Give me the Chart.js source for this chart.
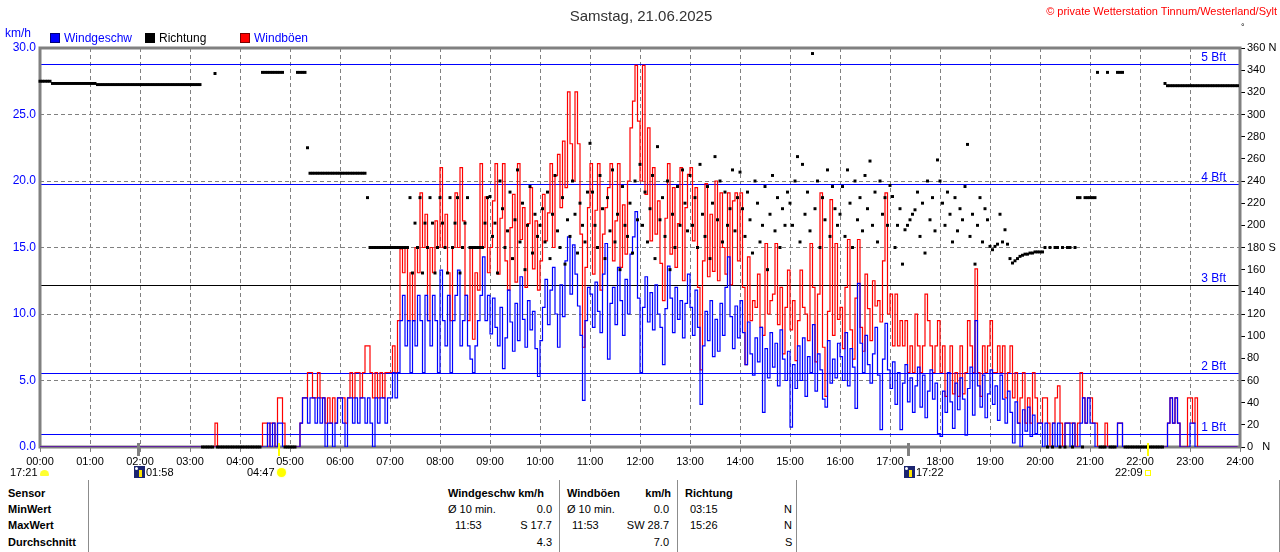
<!DOCTYPE html>
<html>
<head>
<meta charset="utf-8">
<title>Wind Samstag 21.06.2025</title>
<script src="https://cdn.jsdelivr.net/npm/chart.js@4.4.1/dist/chart.umd.min.js"></script>
<style>
  body { margin: 0; background: #fff; }
  #page { position: relative; width: 1280px; height: 552px; overflow: hidden; font-family: "Liberation Sans", Arial, sans-serif; }
  #chart { position: absolute; left: 0; top: 0; }
  .txt { position: absolute; white-space: nowrap; line-height: 1; }
  .sq { position: absolute; width: 10px; height: 10px; box-sizing: border-box; }
  .tab { font-size: 11px; color: #000; }
  .b { font-weight: bold; }
  .sep { position: absolute; top: 480px; width: 1px; height: 72px; background: #8c8c8c; }
  .moon { position: absolute; width: 11px; height: 12px; background: #1c2570; }
  .moon i { position: absolute; left: 5px; top: 4px; width: 3px; height: 7px; background: #ffe600; }
  .moon b { position: absolute; left: 1px; top: 1px; width: 3px; height: 3px; background: #fff; border-radius: 2px; }
</style>
</head>
<body>
<div id="page">
  <canvas id="chart" width="1280" height="470"></canvas>

  <div class="txt" style="left:0;width:1282px;text-align:center;top:8px;font-size:15px;color:#333;">Samstag, 21.06.2025</div>
  <div class="txt" style="right:3px;top:6px;font-size:11px;color:#ff0000;">© private Wetterstation Tinnum/Westerland/Sylt</div>
  <div class="txt" style="left:5px;top:27px;font-size:12px;color:#0000ff;">km/h</div>
  <div class="txt" style="left:1241px;top:23px;font-size:9px;color:#000;">°</div>

  <div class="sq" style="left:50px;top:33px;background:#0000ff;border:1px solid #00007a;"></div>
  <div class="txt" style="left:64px;top:32px;font-size:12px;color:#0000ff;">Windgeschw</div>
  <div class="sq" style="left:145px;top:33px;background:#000;"></div>
  <div class="txt" style="left:159px;top:32px;font-size:12px;color:#000;">Richtung</div>
  <div class="sq" style="left:240px;top:33px;background:#ff0000;border:1px solid #7a0000;"></div>
  <div class="txt" style="left:254px;top:32px;font-size:12px;color:#0000ff;">Windböen</div>

  <!-- sun / moon row -->
  <div class="txt" style="left:10px;top:467px;font-size:11px;">17:21</div>
  <div style="position:absolute;left:40px;top:470px;width:9px;height:6px;background:#ffff30;border-radius:5px 5px 1px 1px;"></div>
  <div class="moon" style="left:134px;top:466px;"><b></b><i></i></div>
  <div class="txt" style="left:146px;top:467px;font-size:11px;">01:58</div>
  <div class="txt" style="left:247px;top:467px;font-size:11px;">04:47</div>
  <div style="position:absolute;left:277px;top:468px;width:9px;height:9px;background:#ffff00;border-radius:5px;box-shadow:0 0 2px #ffff80;"></div>
  <div class="moon" style="left:904px;top:466px;"><b></b><i></i></div>
  <div class="txt" style="left:916px;top:467px;font-size:11px;">17:22</div>
  <div class="txt" style="left:1115px;top:467px;font-size:11px;">22:09</div>
  <div style="position:absolute;left:1145px;top:470px;width:6px;height:6px;border:1px solid #ffff00;box-sizing:border-box;"></div>

  <!-- table -->
  <div class="sep" style="left:88px;"></div>
  <div class="sep" style="left:559px;"></div>
  <div class="sep" style="left:677px;"></div>
  <div class="sep" style="left:796px;"></div>
  <div class="sep" style="left:1279px;"></div>

  <div class="txt tab b" style="left:8px;top:488px;">Sensor</div>
  <div class="txt tab b" style="left:8px;top:504px;">MinWert</div>
  <div class="txt tab b" style="left:8px;top:520px;">MaxWert</div>
  <div class="txt tab b" style="left:8px;top:537px;">Durchschnitt</div>

  <div class="txt tab b" style="left:448px;top:488px;">Windgeschw km/h</div>
  <div class="txt tab b" style="left:567px;top:488px;">Windböen</div>
  <div class="txt tab b" style="right:609px;top:488px;">km/h</div>
  <div class="txt tab b" style="left:685px;top:488px;">Richtung</div>

  <div class="txt tab" style="left:448px;top:504px;">Ø 10 min.</div>
  <div class="txt tab" style="right:728px;top:504px;">0.0</div>
  <div class="txt tab" style="left:567px;top:504px;">Ø 10 min.</div>
  <div class="txt tab" style="right:611px;top:504px;">0.0</div>
  <div class="txt tab" style="left:690px;top:504px;">03:15</div>
  <div class="txt tab" style="left:784px;top:504px;">N</div>

  <div class="txt tab" style="left:455px;top:520px;">11:53</div>
  <div class="txt tab" style="right:728px;top:520px;">S 17.7</div>
  <div class="txt tab" style="left:572px;top:520px;">11:53</div>
  <div class="txt tab" style="right:611px;top:520px;">SW 28.7</div>
  <div class="txt tab" style="left:690px;top:520px;">15:26</div>
  <div class="txt tab" style="left:784px;top:520px;">N</div>

  <div class="txt tab" style="right:728px;top:537px;">4.3</div>
  <div class="txt tab" style="right:611px;top:537px;">7.0</div>
  <div class="txt tab" style="left:785px;top:537px;">S</div>
</div>

<script>
// one value every 3 minutes, one row per hour (00:00 ... 23:57)
const stepMin = 3;

// Windgeschw km/h
const speedRows = [
  [0,0,0,0,0,0,0,0,0,0,0,0,0,0,0,0,0,0,0,0],
  [0,0,0,0,0,0,0,0,0,0,0,0,0,0,0,0,0,0,0,0],
  [0,0,0,0,0,0,0,0,0,0,0,0,0,0,0,0,0,0,0,0],
  [0,0,0,0,0,0,0,0,0,0,0,0,0,0,0,0,0,0,0,0],
  [0,0,0,0,0,0,0,0,0,0,0,1.8,0,1.8,0,1.8,1.8,0,0,0],
  [0,0,0,0,1.8,3.7,3.7,1.8,3.7,3.7,1.8,3.7,1.8,3.7,0,1.8,1.8,0,1.8,3.7],
  [3.7,1.8,0,3.7,3.7,1.8,3.7,1.8,3.7,3.7,1.8,3.7,1.8,0,3.7,1.8,3.7,3.7,1.8,3.7],
  [3.7,5.6,3.7,5.6,9.5,11.4,7.6,9.5,5.6,9.5,7.6,11.4,9.5,5.6,11.4,9.5,7.6,11.4,9.5,5.6],
  [13.3,9.5,7.6,11.4,5.6,9.5,11.4,13.3,7.6,9.5,11.4,7.6,6.6,5.6,7.6,9.5,11.4,14.3,9.5,11.4],
  [8.5,11.2,9.0,7.6,10.5,5.9,8.2,11.8,9.4,7.2,10.8,8.0,12.8,9.6,7.5,11.0,8.8,10.2,7.4,5.3],
  [8.0,10.5,12.6,9.2,11.8,13.5,10.0,7.5,12.2,9.8,14.0,15.8,11.5,15.2,13.0,10.6,8.4,3.5,9.5,12.0],
  [11.5,9.0,12.4,10.2,8.6,13.0,15.3,6.6,10.8,12.0,9.2,13.5,11.0,8.4,12.6,10.0,14.5,15.8,17.7,11.2],
  [5.6,10.5,12.8,9.4,11.6,8.8,12.2,10.0,9.0,6.2,10.4,13.6,11.2,8.6,12.0,9.6,11.0,8.2,10.8,13.0],
  [10.5,8.4,11.8,9.0,3.2,7.6,10.2,8.0,11.0,6.8,9.6,7.2,10.8,8.4,12.0,14.3,9.8,7.4,10.6,8.2],
  [11.0,8.6,6.2,9.4,7.0,5.4,8.2,6.4,9.0,2.6,7.4,5.2,8.6,6.0,7.8,4.6,8.8,6.6,5.0,7.2],
  [1.5,6.2,4.4,7.6,5.0,8.2,3.8,6.8,5.6,9.2,4.2,7.0,5.8,3.6,3.0,8.0,4.8,6.6,5.2,7.8],
  [6.8,5.0,8.6,4.6,7.4,6.0,2.9,12.3,7.8,5.6,8.4,6.2,4.8,7.0,9.0,5.4,1.3,6.6,9.3,5.8],
  [4.4,6.4,3.2,5.6,1.3,4.8,6.2,3.4,5.2,2.6,4.6,6.0,3.0,5.4,2.2,4.2,5.8,3.6,4.8,1.0],
  [0.8,4.2,2.6,5.6,3.4,1.4,4.8,2.8,5.2,3.6,0.9,4.4,6.0,2.4,9.5,4.6,3.0,5.4,2.2,4.0],
  [5.8,3.2,4.6,2.0,5.4,3.6,1.8,4.2,2.6,0.3,3.4,1.8,0,2.8,1.2,3.0,0.8,2.4,1.0,1.8],
  [1.8,0,1.8,0,0,1.8,0,1.8,0,0,1.8,1.8,0,1.8,0,0,1.8,3.7,1.8,3.7],
  [1.8,1.8,0,0,0,0,0,0,0,0,0,1.8,1.8,0,0,0,0,0,0,0],
  [0,0,0,0,0,0,0,0,0,0,0,1.8,3.7,1.8,3.7,1.8,0,0,0,0],
  [1.8,1.8,0,0,0,0,0,0,0,0,0,0,0,0,0,0,0,0,0,0]
];

// Windböen km/h
const gustRows = [
  [0,0,0,0,0,0,0,0,0,0,0,0,0,0,0,0,0,0,0,0],
  [0,0,0,0,0,0,0,0,0,0,0,0,0,0,0,0,0,0,0,0],
  [0,0,0,0,0,0,0,0,0,0,0,0,0,0,0,0,0,0,0,0],
  [0,0,0,0,0,0,0,0,0,0,1.8,0,0,0,0,0,0,0,0,0],
  [0,0,0,0,0,0,0,0,0,1.8,1.8,0,1.8,1.8,0,3.7,3.7,1.8,0,0],
  [0,0,0,0,1.8,3.7,3.7,5.6,5.6,3.7,3.7,5.6,3.7,3.7,1.8,3.7,1.8,3.7,1.8,3.7],
  [3.7,3.7,1.8,3.7,5.6,3.7,5.6,5.6,3.7,5.6,7.6,7.6,5.6,3.7,5.6,3.7,5.6,3.7,5.6,5.6],
  [5.6,7.6,5.6,9.5,14.9,13.1,15.0,9.5,13.1,9.5,15.0,13.1,19.1,15.0,17.5,9.5,15.0,13.1,17.0,15.0],
  [21.0,15.0,17.5,13.1,9.5,15.0,19.1,15.0,21.0,17.0,11.4,9.5,15.0,8.1,13.1,11.8,21.3,15.0,18.8,13.1],
  [15.0,18.5,21.3,13.0,17.2,21.3,14.0,11.8,16.5,19.0,12.4,21.3,15.6,18.0,12.0,16.8,19.5,13.4,17.0,11.8],
  [14.0,19.0,15.5,17.6,21.3,15.0,20.4,22.0,18.0,23.0,19.5,26.7,22.8,20.0,26.7,22.8,16.0,7.5,13.5,18.0],
  [21.3,13.0,17.8,21.3,11.8,16.0,18.0,19.5,21.3,14.0,17.0,21.3,13.5,18.2,14.5,20.0,24.0,26.0,28.7,24.5],
  [20.0,28.7,19.0,24.0,15.5,21.0,16.0,18.5,13.8,11.0,17.2,21.3,14.5,19.5,13.5,16.8,21.0,12.5,18.0,20.5],
  [21.0,15.5,19.5,12.0,5.8,14.0,19.8,12.8,17.5,13.2,20.0,12.5,19.1,15.0,13.0,19.1,12.2,18.5,19.1,14.0],
  [19.1,12.0,6.2,14.3,9.5,11.0,10.5,13.0,9.0,8.4,15.3,10.0,11.0,11.5,15.3,9.2,12.0,7.0,10.5,13.3],
  [8.8,11.0,6.5,9.5,13.3,10.5,10.0,8.0,15.3,12.0,6.4,11.5,19.1,7.5,3.8,10.2,18.6,8.4,15.3,9.6],
  [10.5,7.4,12.0,15.6,8.8,6.6,11.2,15.6,9.0,7.2,13.0,10.4,8.0,12.5,10.6,11.0,9.4,14.0,19.1,10.0],
  [11.5,7.6,11.5,7.6,9.5,7.6,9.5,5.6,7.6,5.6,10.0,7.6,5.6,7.6,11.5,9.5,7.6,5.6,7.6,9.5],
  [5.6,7.6,3.8,5.6,7.6,4.0,5.6,3.8,7.6,4.0,5.6,9.5,7.6,5.6,13.4,5.6,3.8,7.6,5.6,7.6],
  [9.5,5.6,5.6,7.6,5.6,7.6,3.7,5.6,7.6,3.7,5.6,1.8,3.7,5.6,1.8,3.7,1.8,5.6,3.7,1.8],
  [1.8,3.7,3.7,1.8,0,1.8,3.7,4.6,1.8,0,1.8,1.8,1.8,1.8,0,1.8,5.6,3.7,1.8,3.7],
  [3.7,1.8,1.8,0,0,0,1.8,0,0,0,0,1.8,1.8,0,0,0,0,0,0,0],
  [0,0,0,0,0,0,0,0,0,0,0,1.8,3.7,1.8,3.7,1.8,0,0,0,3.7],
  [3.7,1.8,3.7,0,0,0,0,0,0,0,0,0,0,0,0,0,0,0,0,0]
];

// Richtung in Grad (0 = N bei Windstille)
const dirRows = [
  [330,330,330,330,330,328,328,328,328,328,328,328,328,328,328,328,328,328,328,328],
  [328,328,328,327,327,327,327,327,327,327,327,327,327,327,327,327,327,327,327,327],
  [327,327,327,327,327,327,327,327,327,327,327,327,327,327,327,327,327,327,327,327],
  [327,327,327,327,327,0,0,0,0,0,337,0,0,0,0,0,0,0,0,0],
  [0,0,0,0,0,0,0,0,0,338,338,338,338,338,338,338,338,338,0,0],
  [0,0,0,338,338,338,338,270,247,247,247,247,247,247,247,247,247,247,247,247],
  [247,247,247,247,247,247,247,247,247,247,247,225,180,180,180,180,180,180,180,180],
  [180,180,180,180,180,180,180,180,225,157,202,180,225,157,202,180,225,202,157,180],
  [225,202,180,157,225,180,202,225,157,180,202,225,180,180,180,180,180,180,202,225],
  [226,190,202,157,240,215,180,195,230,170,205,250,185,220,160,200,235,175,210,190],
  [200,215,185,230,170,210,245,195,180,225,165,205,190,240,210,175,220,200,185,230],
  [274,230,200,180,245,215,170,225,195,250,185,210,160,235,200,190,220,175,240,205],
  [255,200,230,185,215,245,170,271,205,225,190,240,160,210,180,235,200,250,220,195],
  [245,200,225,180,255,210,190,235,170,220,262,205,240,185,230,200,215,250,195,225],
  [248,215,190,230,205,175,240,220,185,200,235,160,210,245,195,225,180,215,200,230],
  [220,200,240,262,185,255,210,230,195,355,215,240,180,225,205,250,190,235,215,200],
  [210,235,190,250,220,180,240,205,225,195,245,215,258,200,230,185,240,210,225,200],
  [236,226,180,200,215,165,196,200,205,210,214,230,190,220,175,240,205,225,195,259],
  [240,220,200,230,210,185,225,195,215,205,235,273,190,210,165,200,225,185,215,205],
  [181,178,181,183,210,185,196,183,170,166,168,170,172,173,174,174,175,175,176,176],
  [176,176,180,0,180,0,180,180,0,180,0,180,180,0,180,225,225,0,225,225],
  [225,225,225,338,0,0,0,338,0,0,0,338,338,338,0,0,0,0,0,0],
  [0,0,0,0,0,0,0,0,0,0,328,326,326,326,326,326,326,326,326,326],
  [326,326,326,326,326,326,326,326,326,326,326,326,326,326,326,326,326,326,326,326]
];

// Beaufort-Grenzen km/h
const bftLevels = [1.0, 5.6, 12.2, 19.8, 28.8];
const bftNames = ['1 Bft', '2 Bft', '3 Bft', '4 Bft', '5 Bft'];
const bftColors = ['#0000ff', '#0000ff', '#000000', '#0000ff', '#0000ff'];

// Mond / Sonne auf der Zeitachse
const astroTimes = ['01:58', '04:47', '17:22', '22:09'];
const astroColors = ['#808080', '#ffff00', '#808080', '#ffff00'];

function toPoints(rows) {
  return rows.flat().map((v, i) => ({ x: i * stepMin, y: v }));
}
function toMinutes(t) {
  const p = t.split(':');
  return +p[0] * 60 + +p[1];
}

const FONT = '"Liberation Sans", Arial, sans-serif';

const wetterPlugin = {
  id: 'wetter',
  beforeDatasetsDraw(chart) {
    const ctx = chart.ctx, a = chart.chartArea, ys = chart.scales.y;
    ctx.save();
    ctx.font = '12px ' + FONT;
    ctx.textAlign = 'right';
    ctx.textBaseline = 'bottom';
    bftLevels.forEach((v, i) => {
      const y = Math.round(ys.getPixelForValue(v)) + 0.5;
      ctx.strokeStyle = bftColors[i];
      ctx.lineWidth = 1;
      ctx.beginPath();
      ctx.moveTo(a.left, y);
      ctx.lineTo(a.right, y);
      ctx.stroke();
      ctx.fillStyle = '#0000ff';
      ctx.fillText(bftNames[i], a.right - 14, y - 1);
    });
    ctx.strokeStyle = '#808080';
    ctx.lineWidth = 3;
    ctx.strokeRect(a.left, a.top, a.right - a.left, a.bottom - a.top);
    ctx.restore();
  },
  afterDraw(chart) {
    const ctx = chart.ctx, a = chart.chartArea, xs = chart.scales.x;
    ctx.save();
    astroTimes.forEach((t, i) => {
      const x = Math.round(xs.getPixelForValue(toMinutes(t)));
      ctx.fillStyle = astroColors[i];
      ctx.fillRect(x - 1, a.bottom - 4, astroColors[i] === '#808080' ? 3 : 2, 13);
    });
    ctx.restore();
  }
};

new Chart(document.getElementById('chart'), {
  type: 'line',
  data: {
    datasets: [
      {
        label: 'Richtung',
        data: toPoints(dirRows),
        yAxisID: 'y2',
        showLine: false,
        pointStyle: 'rect',
        pointRadius: 2.1,
        pointHoverRadius: 2.1,
        pointBorderWidth: 0,
        backgroundColor: '#000',
        borderColor: '#000',
        clip: 4,
        order: 0
      },
      {
        label: 'Windgeschw',
        data: toPoints(speedRows),
        yAxisID: 'y',
        stepped: true,
        borderColor: '#0000ff',
        borderWidth: 1.2,
        pointRadius: 0,
        order: 1
      },
      {
        label: 'Windböen',
        data: toPoints(gustRows),
        yAxisID: 'y',
        stepped: true,
        borderColor: '#ff0000',
        borderWidth: 1.2,
        pointRadius: 0,
        order: 2
      }
    ]
  },
  options: {
    responsive: false,
    animation: false,
    events: [],
    layout: { padding: { top: 48, left: 0, right: 0, bottom: 0 } },
    plugins: { legend: { display: false }, tooltip: { enabled: false } },
    scales: {
      x: {
        type: 'linear',
        min: 0,
        max: 1440,
        afterFit: s => { s.height = 23; },
        ticks: {
          stepSize: 60,
          autoSkip: false,
          maxRotation: 0,
          padding: 3,
          color: '#000',
          font: { family: FONT, size: 11 },
          callback: v => (v / 60 < 10 ? '0' : '') + (v / 60) + ':00'
        },
        grid: { color: '#808080', tickLength: 5, tickColor: '#808080' },
        border: { display: false, dash: [4, 3] }
      },
      y: {
        position: 'left',
        min: 0,
        max: 30,
        afterFit: s => { s.width = 40; },
        ticks: {
          stepSize: 5,
          padding: 4,
          color: '#0000ff',
          font: { family: FONT, size: 12 },
          callback: v => v.toFixed(1)
        },
        grid: { color: '#808080', drawTicks: false },
        border: { display: false, dash: [4, 3] }
      },
      y2: {
        position: 'right',
        min: 0,
        max: 360,
        afterFit: s => { s.width = 40; },
        ticks: {
          stepSize: 20,
          padding: 2,
          color: '#000',
          font: { family: FONT, size: 11 },
          callback: v => v === 360 ? '360 N' : v === 180 ? '180 S' : v === 0 ? '0   N' : v
        },
        grid: { drawOnChartArea: false, tickLength: 5, color: '#000' },
        border: { display: false }
      }
    }
  },
  plugins: [wetterPlugin]
});
</script>
</body>
</html>
